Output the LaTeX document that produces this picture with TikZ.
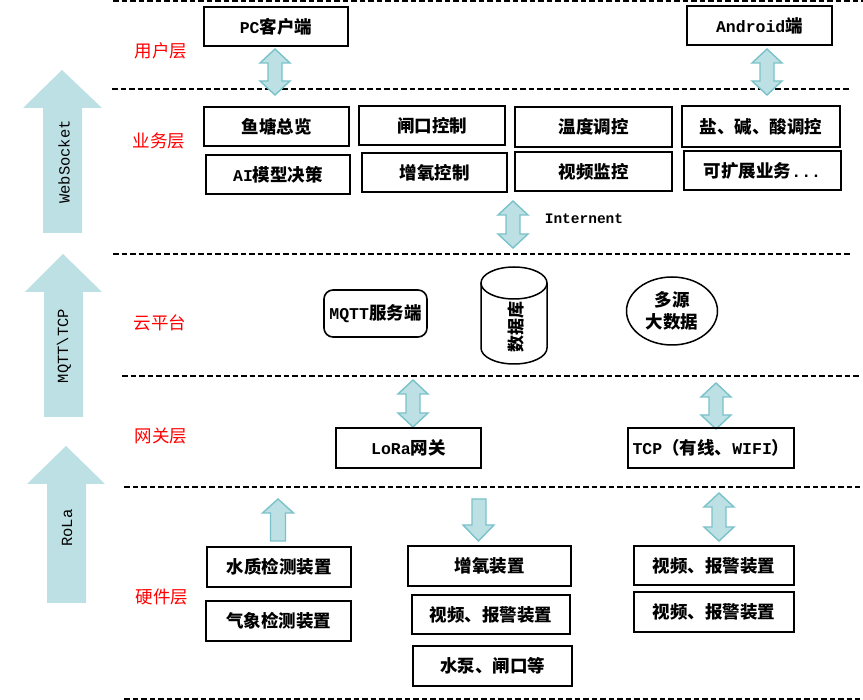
\documentclass[tikz,border=0pt]{standalone}
\usepackage{fontspec}
\setmainfont{Noto Sans CJK SC}
\newfontfamily\lat{Liberation Mono}
\newcommand\Lt[1]{{\lat\fontsize{16.5}{18}\selectfont #1}}
\usetikzlibrary{shapes.geometric}
\definecolor{arrfill}{RGB}{188,224,228}
\definecolor{arrline}{RGB}{122,194,202}
\newcommand\DArr[3]{\path[darr] (#1,#2) -- ({#1+15},{#2+14}) -- ({#1+7},{#2+14}) -- ({#1+7},{#3-14}) -- ({#1+15},{#3-14}) -- (#1,#3) -- ({#1-15},{#3-14}) -- ({#1-7},{#3-14}) -- ({#1-7},{#2+14}) -- ({#1-15},{#2+14}) -- cycle;}
\begin{document}
\begin{tikzpicture}[x=1pt,y=-1pt,
  box/.style={draw,line width=1.6pt,inner sep=0pt,font=\fontsize{17.5}{20}\selectfont\bfseries},
  lay/.style={text=red,font=\fontsize{17.5}{20}\selectfont},
  sep/.style={line width=1.5pt,dash pattern=on 5.5pt off 3pt},
  darr/.style={fill=arrfill,draw=arrline,line width=1.4pt,line join=miter},
  bigarr/.style={fill=arrfill},
  rot/.style={rotate=90,font=\lat\fontsize{15.5}{16}\selectfont}]
\useasboundingbox (0,0) rectangle (863,700);
% separators
\draw[sep] (113,1) -- (863,1);
\draw[sep] (112,89) -- (850,89);
\draw[sep] (113,254) -- (850,254);
\draw[sep] (122,376) -- (860,376);
\draw[sep] (124,487) -- (860,487);
\draw[sep] (124,699) -- (860,699);
% big left arrows
\path[bigarr] (62,70) -- (102,108) -- (82,108) -- (82,233) -- (43,233) -- (43,108) -- (23,108) -- cycle;
\path[bigarr] (63,254) -- (102,292) -- (83,292) -- (83,417) -- (44,417) -- (44,292) -- (25,292) -- cycle;
\path[bigarr] (66,446) -- (105,484) -- (86,484) -- (86,603) -- (47,603) -- (47,484) -- (27,484) -- cycle;
\node[rot] (ws) at (64,162) {WebSocket};
\node[rot] (mq) at (64,346) {MQTT\textbackslash TCP};
\node[rot] (rl) at (67,528) {RoLa};
% layer labels
\node[lay] (l1) at (161,51) {用户层};
\node[lay] (l2) at (159,141) {业务层};
\node[lay] (l3) at (160,323) {云平台};
\node[lay] (l4) at (161,436) {网关层};
\node[lay] (l5) at (162,597) {硬件层};
% user layer
\node[box,minimum width=144,minimum height=39] (pc) at (276,26.5) {\Lt{PC}客户端};
\node[box,minimum width=145,minimum height=39] (and) at (759.5,25.5) {\Lt{Android}端};
\DArr{275}{49}{95}
\DArr{767}{49}{95}
% business layer
\node[box,minimum width=145,minimum height=39] (yt) at (276.5,126.5) {鱼塘总览};
\node[box,minimum width=144,minimum height=39] (ai) at (278,174.5) {\Lt{AI}模型决策};
\node[box,minimum width=146,minimum height=39] (zk) at (432,125.5) {闸口控制};
\node[box,minimum width=145,minimum height=39] (zy) at (434.5,172.5) {增氧控制};
\node[box,minimum width=157,minimum height=40] (wd) at (593.5,127) {温度调控};
\node[box,minimum width=157,minimum height=39] (sp) at (593.5,171.5) {视频监控};
\node[box,minimum width=158,minimum height=41] (yj) at (761,126.5) {盐、碱、酸调控};
\node[box,minimum width=157,minimum height=39] (kz) at (762.5,170.5) {可扩展业务\Lt{...}};
\DArr{513}{201}{248}
\node[font=\lat\fontsize{14.5}{16}\selectfont\bfseries] (inet) at (584,219) {Internent};
% cloud layer
\node[box,rounded corners=9pt,minimum width=103,minimum height=47] (mqtt) at (375.5,313.5) {\Lt{MQTT}服务端};
\draw[line width=1.5pt] (481,283) -- (481,348) arc[start angle=180,end angle=0,x radius=33,y radius=16] -- (547,283);
\draw[line width=1.5pt,fill=white] (514,283) ellipse [x radius=33,y radius=16];
\node[rotate=90,font=\fontsize{17}{18}\selectfont\bfseries] (db) at (516,327) {数据库};
\node[draw,ellipse,line width=1.5pt,minimum width=91,minimum height=68,inner sep=0pt,align=center,font=\fontsize{17.5}{22}\selectfont\bfseries] (big) at (672,311) {多源\\大数据};
% gateway layer
\DArr{413}{380}{427}
\DArr{716}{383}{429}
\node[box,minimum width=145,minimum height=40] (lora) at (408.5,448) {\Lt{LoRa}网关};
\node[box,minimum width=166,minimum height=40] (tcp) at (711,448) {\Lt{TCP}（有线、\Lt{WIFI}）};
% hardware layer
\path[darr] (278,499) -- (293.5,513) -- (285.5,513) -- (285.5,541) -- (270.5,541) -- (270.5,513) -- (262.5,513) -- cycle;
\path[darr] (478.5,541) -- (494,525) -- (486,525) -- (486,499) -- (472,499) -- (472,525) -- (463,525) -- cycle;
\DArr{719}{493}{541}
\node[box,minimum width=144,minimum height=40] (sz) at (279,567) {水质检测装置};
\node[box,minimum width=145,minimum height=40] (qx) at (278.5,621) {气象检测装置};
\node[box,minimum width=163,minimum height=40] (zyzz) at (489.5,566) {增氧装置};
\node[box,minimum width=158,minimum height=39] (spa) at (491,614.5) {视频、报警装置};
\node[box,minimum width=159,minimum height=40] (sb) at (492.5,666) {水泵、闸口等};
\node[box,minimum width=160,minimum height=39] (spb) at (714,565.5) {视频、报警装置};
\node[box,minimum width=160,minimum height=40] (spc) at (714,612) {视频、报警装置};
\end{tikzpicture}
\end{document}
